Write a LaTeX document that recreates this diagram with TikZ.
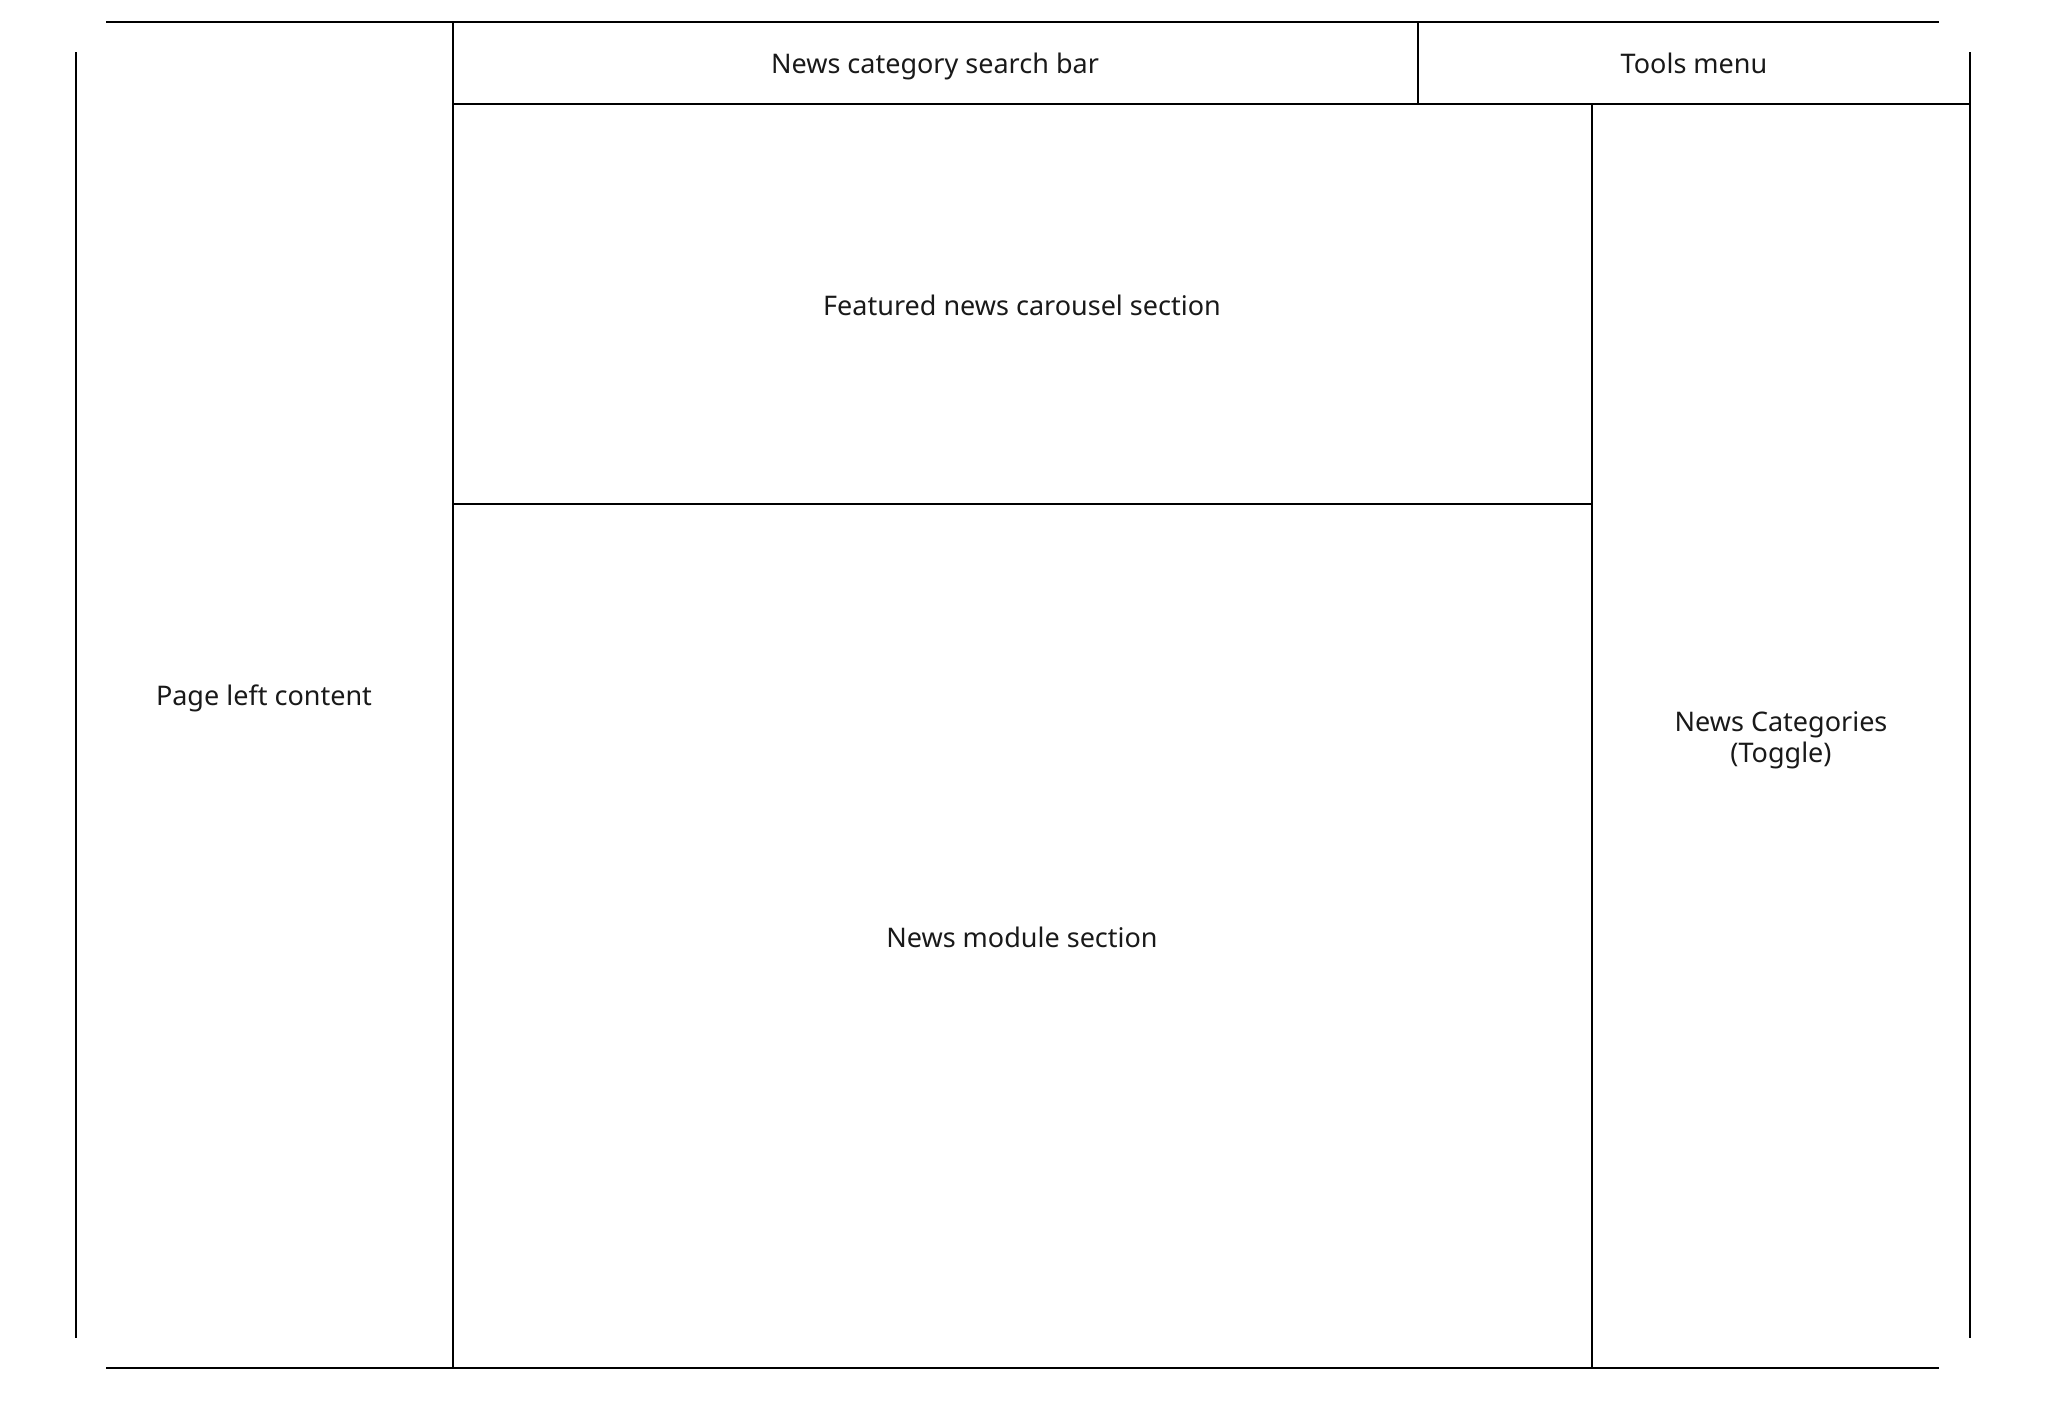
\documentclass[tikz,border=0pt]{standalone}
\usepackage{fontspec}
\setmainfont{Noto Sans}
\tikzset{
  wire/.style={line width=2.7pt, black},
  lbl/.style={font=\fontsize{27}{31}\selectfont, align=center, inner sep=0pt,
              text height=27pt, text depth=7pt, text=black!90}
}
\begin{document}
\begin{tikzpicture}[x=1pt,y=-1pt]
\useasboundingbox (0,0) rectangle (2048,1408);
% outer frame (corners open)
\draw[wire] (106,22) -- (1939,22);
\draw[wire] (106,1368) -- (1939,1368);
\draw[wire] (76,52) -- (76,1338);
\draw[wire] (1970,52) -- (1970,1338);
% inner divisions
\draw[wire] (453,22) -- (453,1368);
\draw[wire] (453,104) -- (1970,104);
\draw[wire] (1418,22) -- (1418,104);
\draw[wire] (1592,104) -- (1592,1368);
\draw[wire] (453,504) -- (1592,504);
% labels
\node[lbl] (search) at (935,63) {News category search bar};
\node[lbl] (tools) at (1694,63) {Tools menu};
\node[lbl] (carousel) at (1022,305) {Featured news carousel section};
\node[lbl] (module) at (1022,937) {News module section};
\node[lbl] (left) at (264,695) {Page left content};
\node[lbl] (cats) at (1781,752) {News Categories\\(Toggle)};
\end{tikzpicture}
\end{document}
